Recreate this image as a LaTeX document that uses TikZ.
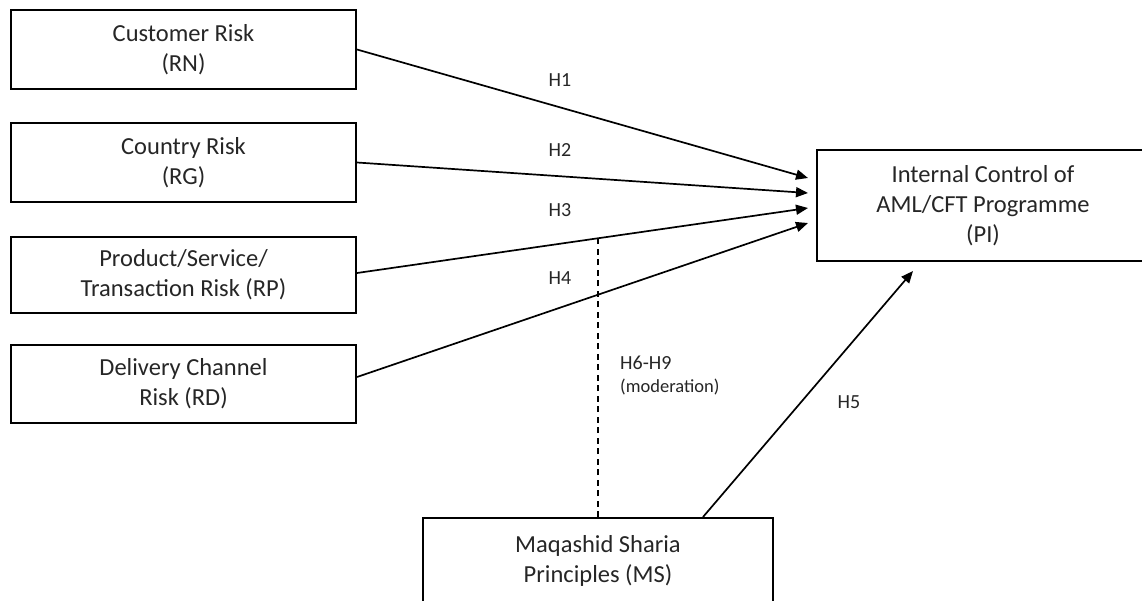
\documentclass[tikz,border=0pt]{standalone}
\usepackage{fontspec}
\setmainfont{Carlito}
\usetikzlibrary{arrows.meta}
\tikzset{box/.style={draw, line width=2pt, align=center, inner sep=0pt,
  text=black!85, font=\fontsize{24.5}{30}\selectfont},
  link/.style={line width=1.7pt, -{Triangle[length=12pt,width=10pt]}},
  hyp/.style={text=black!85, font=\fontsize{20}{24}\selectfont}}

\begin{document}
\begin{tikzpicture}[x=1pt,y=-1pt]
      \useasboundingbox (0,0) rectangle (1142,600);
      \clip (0,0) rectangle (1142,600);
      \fill [white] (0,0) rectangle (1142,600);

      % risk factors
      \node [box, minimum width=345pt, minimum height=79pt] (rn) at (183.5, 49.5) {Customer Risk\\(RN)};
      \node [box, minimum width=345pt, minimum height=79pt] (rg) at (183.5, 162.5) {Country Risk\\(RG)};
      \node [box, minimum width=345pt, minimum height=76pt] (rp) at (183.5, 275) {Product/Service/\\Transaction Risk (RP)};
      \node [box, minimum width=345pt, minimum height=78pt] (rd) at (183.5, 384) {Delivery Channel\\Risk (RD)};

      \node [box, minimum width=332pt, minimum height=111pt] (pi) at (983, 205.5) {Internal Control of\\AML/CFT Programme\\(PI)};
      \node [box, minimum width=350pt, minimum height=86pt] (ms) at (598, 561) {Maqashid Sharia\\Principles (MS)};

      \coordinate (t1) at (808, 178);
      \coordinate (t2) at (808, 193);
      \coordinate (t3) at (808, 208);
      \coordinate (t4) at (808, 223);
      \coordinate (t5) at ([xshift=-70pt, yshift=-9pt]pi.south);

      \draw [link] (rn.east) -- (t1);
      \draw [link] (rg.east) -- (t2);
      \draw [link] ([yshift=2pt]rp.east) -- coordinate [pos=0.534] (m) (t3);
      \draw [link] ([yshift=7pt]rd.east) -- (t4);
      \draw [link] ([xshift=105pt]ms.north) -- (t5);

      \draw [line width=1.6pt, dash pattern=on 6pt off 4.5pt] (ms.north) -- (ms.north |- m);

      \node [hyp] (h1) at (560, 80) {H1};
      \node [hyp] (h2) at (560, 150) {H2};
      \node [hyp] (h3) at (560, 210) {H3};
      \node [hyp] (h4) at (560, 278) {H4};
      \node [hyp] (h5) at (849, 402) {H5};
      \node [hyp, right, inner sep=0pt] (h69) at (620, 363) {H6-H9};
      \node [right, inner sep=0pt, text=black!85, font=\fontsize{18.5}{22}\selectfont] (mod) at (620, 387) {(moderation)};
    \end{tikzpicture}
\end{document}
